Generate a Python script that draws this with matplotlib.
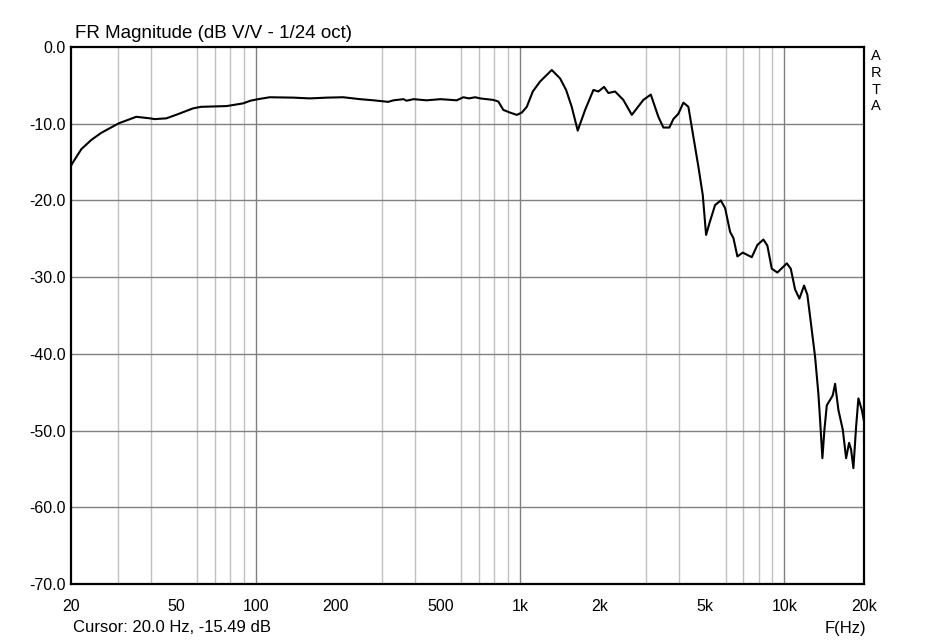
import matplotlib
matplotlib.use("Agg")
import matplotlib.pyplot as plt
from matplotlib.ticker import FixedLocator, NullFormatter

plt.rcParams['font.family'] = ['Liberation Sans', 'DejaVu Sans']

freq_hz = [20, 20.2, 21.9, 23.9, 26.0, 30.3, 35.3, 39.8, 41.4, 45.9, 50.8, 57.9, 62,
           77.6, 89.5, 95.5, 102, 113, 139, 160, 186, 214, 248, 279, 317, 332, 362,
           372, 395, 443, 500, 576, 610, 640, 676, 706, 792, 827, 864, 916, 972, 1015,
           1060, 1117, 1190, 1318, 1417, 1493, 1568, 1652, 1762, 1894, 1978, 2078,
           2158, 2288, 2458, 2646, 2926, 3122, 3335, 3484, 3670, 3800, 3970, 4148,
           4332, 4524, 4726, 4910, 5054, 5200, 5466, 5744, 5964, 6230, 6412, 6638,
           6958, 7526, 7902, 8326, 8620, 8956, 9404, 10210, 10568, 10972, 11392,
           11868, 12212, 12690, 13062, 13442, 13642, 13920, 14166, 14466, 14888,
           15238, 15548, 16000, 16628, 17114, 17566, 17876, 18236, 18670, 19048,
           19622, 20000]
mag_db = [-15.5, -15.2, -13.3, -12.1, -11.2, -9.95, -9.1, -9.3, -9.4, -9.3, -8.75,
          -8.0, -7.8, -7.7, -7.35, -7.0, -6.8, -6.55, -6.6, -6.7, -6.6, -6.55, -6.8,
          -6.95, -7.15, -6.95, -6.8, -7.0, -6.8, -6.95, -6.8, -6.95, -6.55, -6.7,
          -6.55, -6.7, -6.9, -7.1, -8.2, -8.55, -8.85, -8.55, -7.8, -5.8, -4.5, -3.0,
          -4.1, -5.6, -7.8, -10.9, -8.2, -5.6, -5.8, -5.2, -6.0, -5.8, -6.9, -8.85,
          -6.9, -6.2, -9.1, -10.5, -10.5, -9.4, -8.7, -7.25, -7.8, -11.7, -15.6,
          -19.3, -24.5, -23.0, -20.6, -20.0, -21.0, -24.1, -24.9, -27.3, -26.8, -27.4,
          -25.8, -25.1, -25.9, -28.9, -29.4, -28.2, -28.9, -31.6, -32.8, -31.1, -32.3,
          -36.9, -40.4, -45.2, -48.6, -53.6, -49.9, -46.7, -46.0, -45.4, -43.9, -47.3,
          -49.9, -53.6, -51.6, -52.5, -54.9, -49.5, -45.8, -47.3, -48.8]

x_ticks = [20, 50, 100, 200, 500, 1000, 2000, 5000, 10000, 20000]
x_tick_labels = ["20", "50", "100", "200", "500", "1k", "2k", "5k", "10k", "20k"]
y_ticks = [0, -10, -20, -30, -40, -50, -60, -70]
y_tick_labels = ["0.0", "-10.0", "-20.0", "-30.0", "-40.0", "-50.0", "-60.0", "-70.0"]
minor_grid = [30, 40, 60, 70, 80, 90, 300, 400, 600, 700, 800, 900,
              3000, 4000, 6000, 7000, 8000, 9000]
major_grid = [100, 1000, 10000]

W, H = 937, 641
fig = plt.figure(figsize=(W / 100, H / 100), dpi=100)
fig.patch.set_facecolor('white')
L, R, T, B = 71, 864, 47, 584
ax = fig.add_axes([L / W, 1 - B / H, (R - L) / W, (B - T) / H])
ax.set_xscale('log')
ax.set_xlim(20, 20000)
ax.set_ylim(-70, 0)

for f in minor_grid:
    ax.axvline(f, color='#c0c0c0', lw=1.0, zorder=1)
for f in major_grid:
    ax.axvline(f, color='#808080', lw=1.0, zorder=1)
for v in y_ticks[1:-1]:
    ax.axhline(v, color='#808080', lw=1.0, zorder=1)

ax.plot(freq_hz, mag_db, color='black', lw=1.5, zorder=3)

ax.xaxis.set_major_locator(FixedLocator(x_ticks))
ax.set_xticklabels(x_tick_labels)
ax.xaxis.set_minor_formatter(NullFormatter())
ax.xaxis.set_minor_locator(FixedLocator([]))
ax.set_yticks(y_ticks)
ax.set_yticklabels(y_tick_labels)
ax.tick_params(axis='both', length=0, labelsize=11.5, colors='black')
ax.tick_params(axis='x', pad=11)
ax.tick_params(axis='y', pad=4)
for s in ax.spines.values():
    s.set_linewidth(1.6)
    s.set_color('black')

fig.text(75 / W, 1 - 34 / H, "FR Magnitude (dB V/V - 1/24 oct)", fontsize=13.5,
         ha='left', va='center')
fig.text(73 / W, 1 - 628 / H, "Cursor: 20.0 Hz, -15.49 dB", fontsize=12,
         ha='left', va='center')
fig.text(866 / W, 1 - 628 / H, "F(Hz)", fontsize=12, ha='right', va='center')
for i, ch in enumerate("ARTA"):
    fig.text(876 / W, 1 - (56 + 16.8 * i) / H, ch, fontsize=10.5, ha='center', va='center')

fig.savefig("out.png", dpi=100, facecolor='white')
